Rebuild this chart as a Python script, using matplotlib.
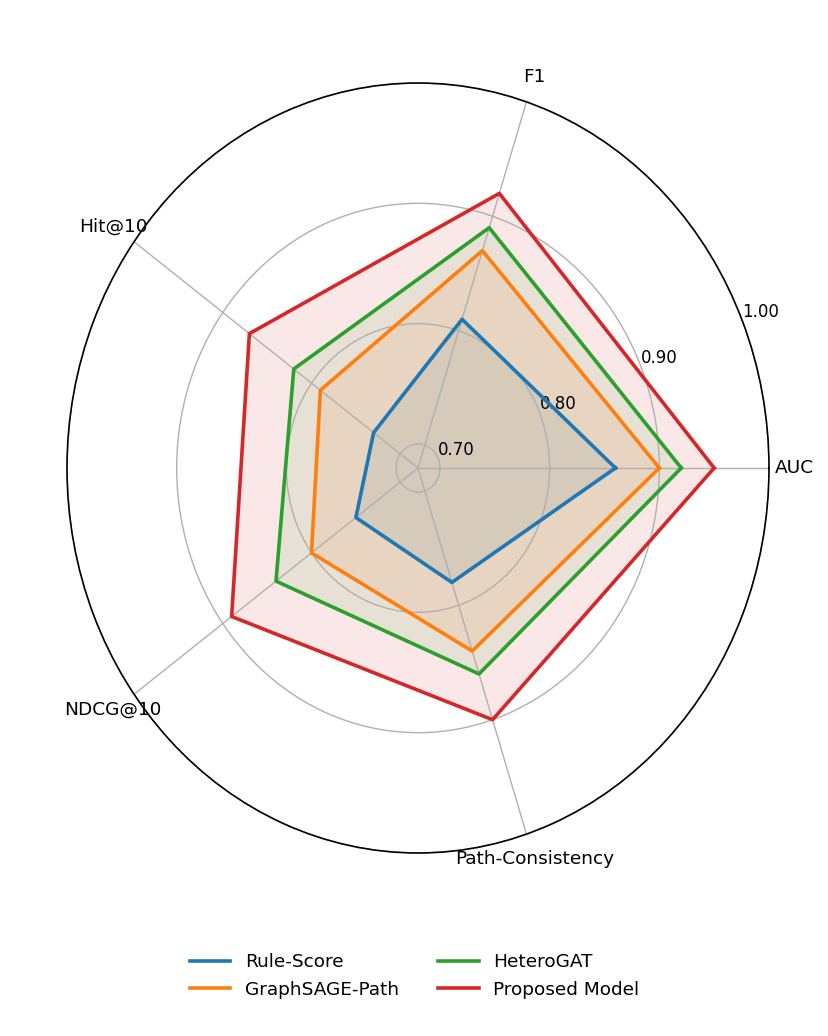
import numpy as np
import matplotlib
matplotlib.use("Agg")
import matplotlib.pyplot as plt

categories = ['AUC', 'F1', 'Hit@10', 'NDCG@10', 'Path-Consistency']
models = ['Rule-Score', 'GraphSAGE-Path', 'HeteroGAT', 'Proposed Model']
rule_score = [0.86, 0.81, 0.73, 0.75, 0.78]
graphsage_path = [0.90, 0.87, 0.79, 0.80, 0.84]
heterogat = [0.92, 0.89, 0.82, 0.84, 0.86]
proposed = [0.95, 0.92, 0.87, 0.89, 0.90]
rticks = [0.70, 0.80, 0.90, 1.00]
rtick_labels = ['0.70', '0.80', '0.90', '1.00']

colors = ['#1f77b4', '#ff7f0e', '#2ca02c', '#d62728']

fig = plt.figure(figsize=(8.29, 10.36), dpi=100)
ax = fig.add_axes([67 / 829, 183 / 1036, 702 / 829, 770 / 1036], projection='polar')
# the reference is slightly taller than wide
ax.set_aspect('auto')

# angles, closing the polygon
angles = np.linspace(0, 2 * np.pi, len(categories), endpoint=False)
angles = np.concatenate((angles, [angles[0]]))

for name, vals, c in zip(models, [rule_score, graphsage_path, heterogat, proposed], colors):
    v = vals + [vals[0]]
    ax.plot(angles, v, '-', linewidth=2.6, color=c, label=name)
    ax.fill(angles, v, color=c, alpha=0.1)

ax.set_xticks(angles[:-1])
ax.set_xticklabels(categories, fontsize=13.3)
ax.tick_params(axis='x', pad=8)

ax.set_ylim(0.68, 1.0)
ax.set_yticks(rticks)
ax.set_yticklabels(rtick_labels, fontsize=12)
ax.set_rlabel_position(22.5)

ax.grid(True, color='#b0b0b0', linewidth=1)
ax.spines['polar'].set_color('black')
ax.spines['polar'].set_linewidth(1.2)

fig.legend(loc='lower center', bbox_to_anchor=(0.5, 0.02), ncol=2, frameon=False,
           fontsize=13.3, columnspacing=2.1, handlelength=2.2)

fig.savefig('out.png', dpi=100)
